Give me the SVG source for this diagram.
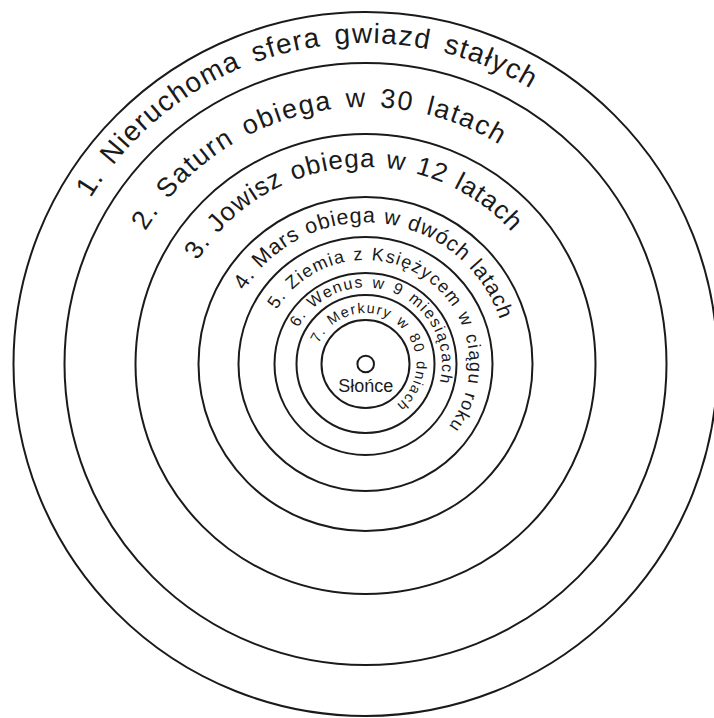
<svg xmlns="http://www.w3.org/2000/svg" xmlns:xlink="http://www.w3.org/1999/xlink" width="714" height="718" viewBox="0 0 714 718">
<style>
.orb{fill:none;stroke:#1a1a1a;stroke-width:2}
.lbl{font-family:"Liberation Sans",Arial,sans-serif;fill:#1a1a1a}
</style>
<defs>
<path id="p1" d="M365.5,685 A321,321 0 1,1 365.5,43 A321,321 0 1,1 365.5,685"/>
<path id="p2" d="M365.5,621 A257,257 0 1,1 365.5,107 A257,257 0 1,1 365.5,621"/>
<path id="p3" d="M365.5,561 A197,197 0 1,1 365.5,167 A197,197 0 1,1 365.5,561"/>
<path id="p4" d="M365.5,505.5 A141.5,141.5 0 1,1 365.5,222.5 A141.5,141.5 0 1,1 365.5,505.5"/>
<path id="p5" d="M365.5,468 A104,104 0 1,1 365.5,260 A104,104 0 1,1 365.5,468"/>
<path id="p6" d="M365.5,440.5 A76.5,76.5 0 1,1 365.5,287.5 A76.5,76.5 0 1,1 365.5,440.5"/>
<path id="p7" d="M365.5,415 A51,51 0 1,1 365.5,313 A51,51 0 1,1 365.5,415"/>
</defs>
<rect width="714" height="718" fill="#fff"/>
<g id="orbits">
<circle id="c1" class="orb" cx="365.5" cy="364" r="352"/>
<circle id="c2" class="orb" cx="365.5" cy="364" r="301"/>
<circle id="c3" class="orb" cx="365.5" cy="364" r="230"/>
<circle id="c4" class="orb" cx="365.5" cy="364" r="167"/>
<circle id="c5" class="orb" cx="365.5" cy="364" r="127"/>
<circle id="c6" class="orb" cx="365.5" cy="364" r="91"/>
<circle id="c7" class="orb" cx="365.5" cy="364" r="69"/>
<circle id="c8" class="orb" cx="365.5" cy="364" r="44"/>
</g>
<g id="sun">
<circle class="orb" cx="365.7" cy="364" r="8.3"/>
<text class="lbl" x="365.8" y="392" font-size="18" text-anchor="middle">Słońce</text>
</g>
<g id="labels">
<text id="t1" class="lbl" font-size="28" letter-spacing="1.3" word-spacing="4.5"><textPath xlink:href="#p1" href="#p1" startOffset="678">1. Nieruchoma sfera gwiazd stałych</textPath></text>
<text id="t2" class="lbl" font-size="27" letter-spacing="1.6" word-spacing="3.8"><textPath xlink:href="#p2" href="#p2" startOffset="543">2. Saturn obiega w 30 latach</textPath></text>
<text id="t3" class="lbl" font-size="26" letter-spacing="0.9" word-spacing="2"><textPath xlink:href="#p3" href="#p3" startOffset="418">3. Jowisz obiega w 12 latach</textPath></text>
<text id="t4" class="lbl" font-size="21.5" letter-spacing="0.8" word-spacing="0.9"><textPath xlink:href="#p4" href="#p4" startOffset="299">4. Mars obiega w dwóch latach</textPath></text>
<text id="t5" class="lbl" font-size="18" letter-spacing="1.3" word-spacing="1.2"><textPath xlink:href="#p5" href="#p5" startOffset="220">5. Ziemia z Księżycem w ciągu roku</textPath></text>
<text id="t6" class="lbl" font-size="16" letter-spacing="1.5" word-spacing="1.6"><textPath xlink:href="#p6" href="#p6" startOffset="157.6">6. Wenus w 9 miesiącach</textPath></text>
<text id="t7" class="lbl" font-size="14.5" letter-spacing="1.4" word-spacing="1.6"><textPath xlink:href="#p7" href="#p7" startOffset="101">7. Merkury w 80 dniach</textPath></text>
</g>
</svg>
